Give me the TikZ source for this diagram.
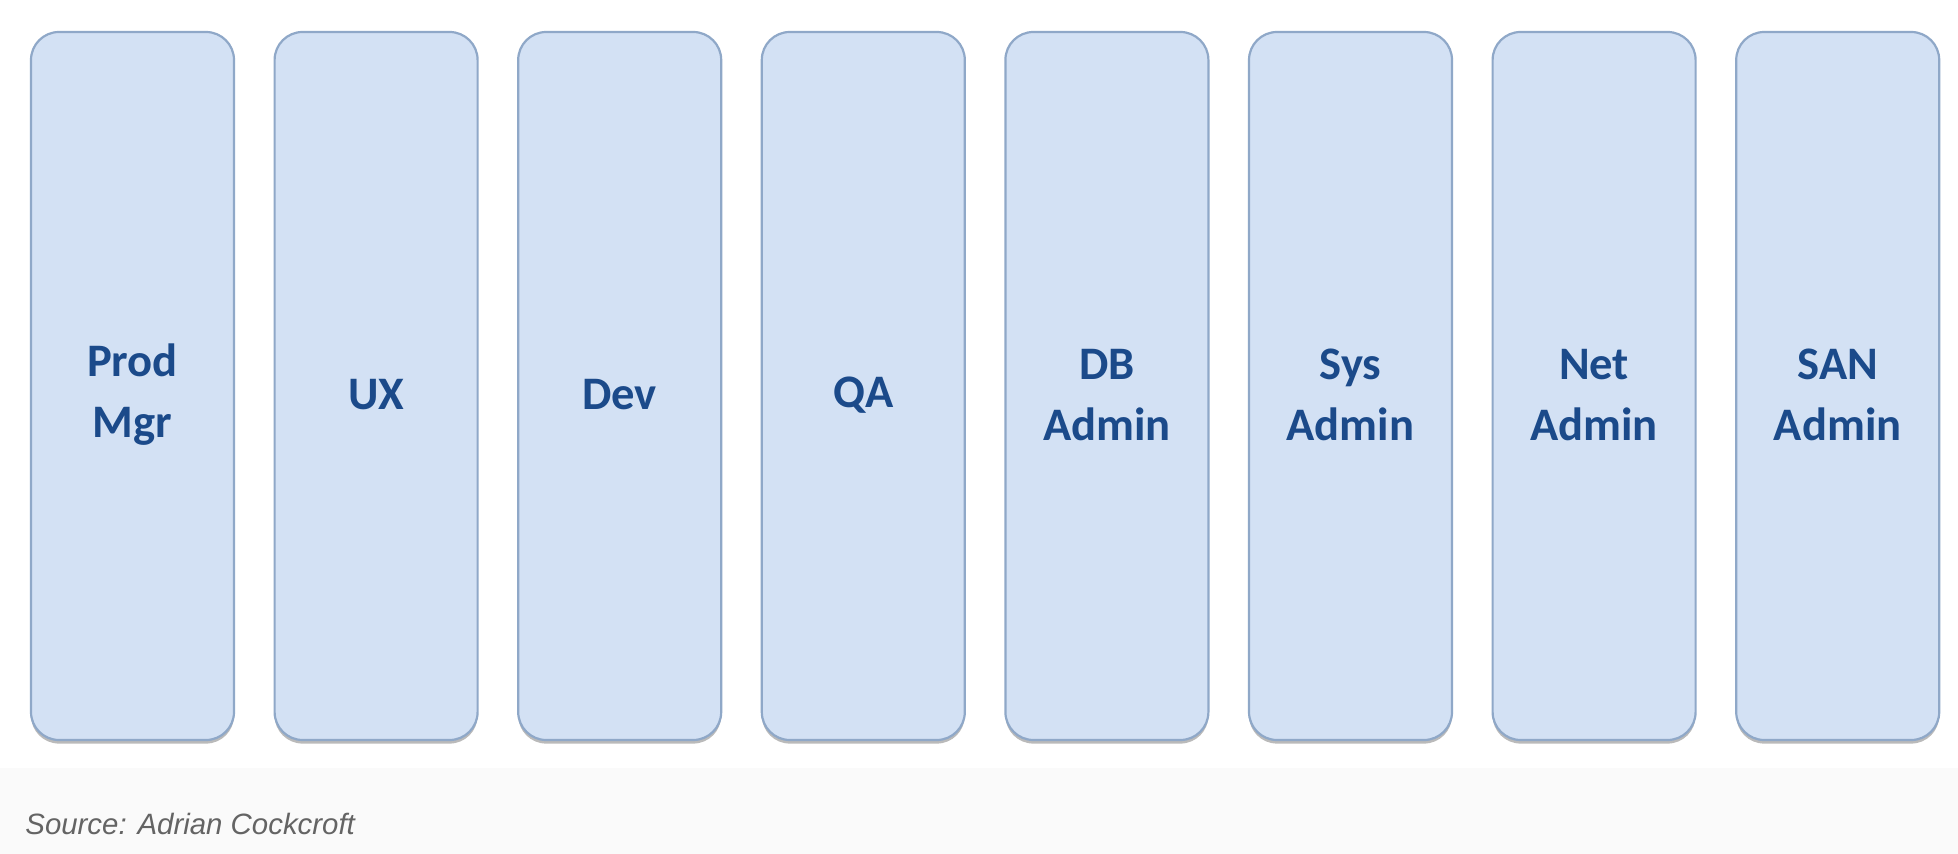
\documentclass[tikz,border=0pt]{standalone}
\usepackage{fontspec}
\setmainfont{Carlito}
\newfontfamily\sourcefont{Liberation Sans}
\usetikzlibrary{shadows}

\definecolor{roleFill}{RGB}{211,225,244}
\definecolor{roleLine}{RGB}{143,168,200}
\definecolor{roleText}{RGB}{27,74,138}
\definecolor{sourceGray}{RGB}{100,100,100}

\begin{document}
\begin{tikzpicture}[x=0.5pt,y=0.5pt,yscale=-1,xscale=1,
  role/.style={draw=roleLine, line width=1.1pt, fill=roleFill, rounded corners=14pt,
    minimum width=101.5pt, minimum height=354pt, inner sep=0pt,
    drop shadow={shadow xshift=0pt, shadow yshift=-1.8pt, opacity=0.45, fill=black!60}},
  rolelabel/.style={align=center, inner sep=0pt, text=roleText,
    font=\fontsize{23.3}{30.5}\selectfont\bfseries}]
\useasboundingbox (0,0) rectangle (1958,854);

%Background
\fill [white] (0,0) rectangle (1958,768);
\fill [black!2] (0,768) rectangle (1958,854);

%Role silos
\node [role] (prodmgr) at (132.5,386) {};
\node [role] (ux) at (376.1,386) {};
\node [role] (dev) at (619.7,386) {};
\node [role] (qa) at (863.3,386) {};
\node [role] (dbadmin) at (1106.9,386) {};
\node [role] (sysadmin) at (1350.5,386) {};
\node [role] (netadmin) at (1594.1,386) {};
\node [role] (sanadmin) at (1837.7,386) {};

%Silo labels (y axis is flipped, so a positive yshift goes down)
\node [rolelabel] (prodmgr-text) at ([yshift=4.5pt]prodmgr.center) {Prod\\Mgr};
\node [rolelabel] (ux-text) at ([yshift=4.5pt]ux.center) {UX};
\node [rolelabel] (dev-text) at ([yshift=4.5pt]dev.center) {Dev};
\node [rolelabel] (qa-text) at ([yshift=4.5pt]qa.center) {QA};
\node [rolelabel] (dbadmin-text) at ([yshift=4.5pt]dbadmin.center) {DB\\Admin};
\node [rolelabel] (sysadmin-text) at ([yshift=4.5pt]sysadmin.center) {Sys\\Admin};
\node [rolelabel] (netadmin-text) at ([yshift=4.5pt]netadmin.center) {Net\\Admin};
\node [rolelabel] (sanadmin-text) at ([yshift=4.5pt]sanadmin.center) {SAN\\Admin};

%Source
\node [anchor=base west, inner sep=0pt, text=sourceGray, font=\sourcefont\itshape\fontsize{14.7}{17}\selectfont] (source) at (25,834) {Source: Adrian Cockcroft};

\end{tikzpicture}
\end{document}
